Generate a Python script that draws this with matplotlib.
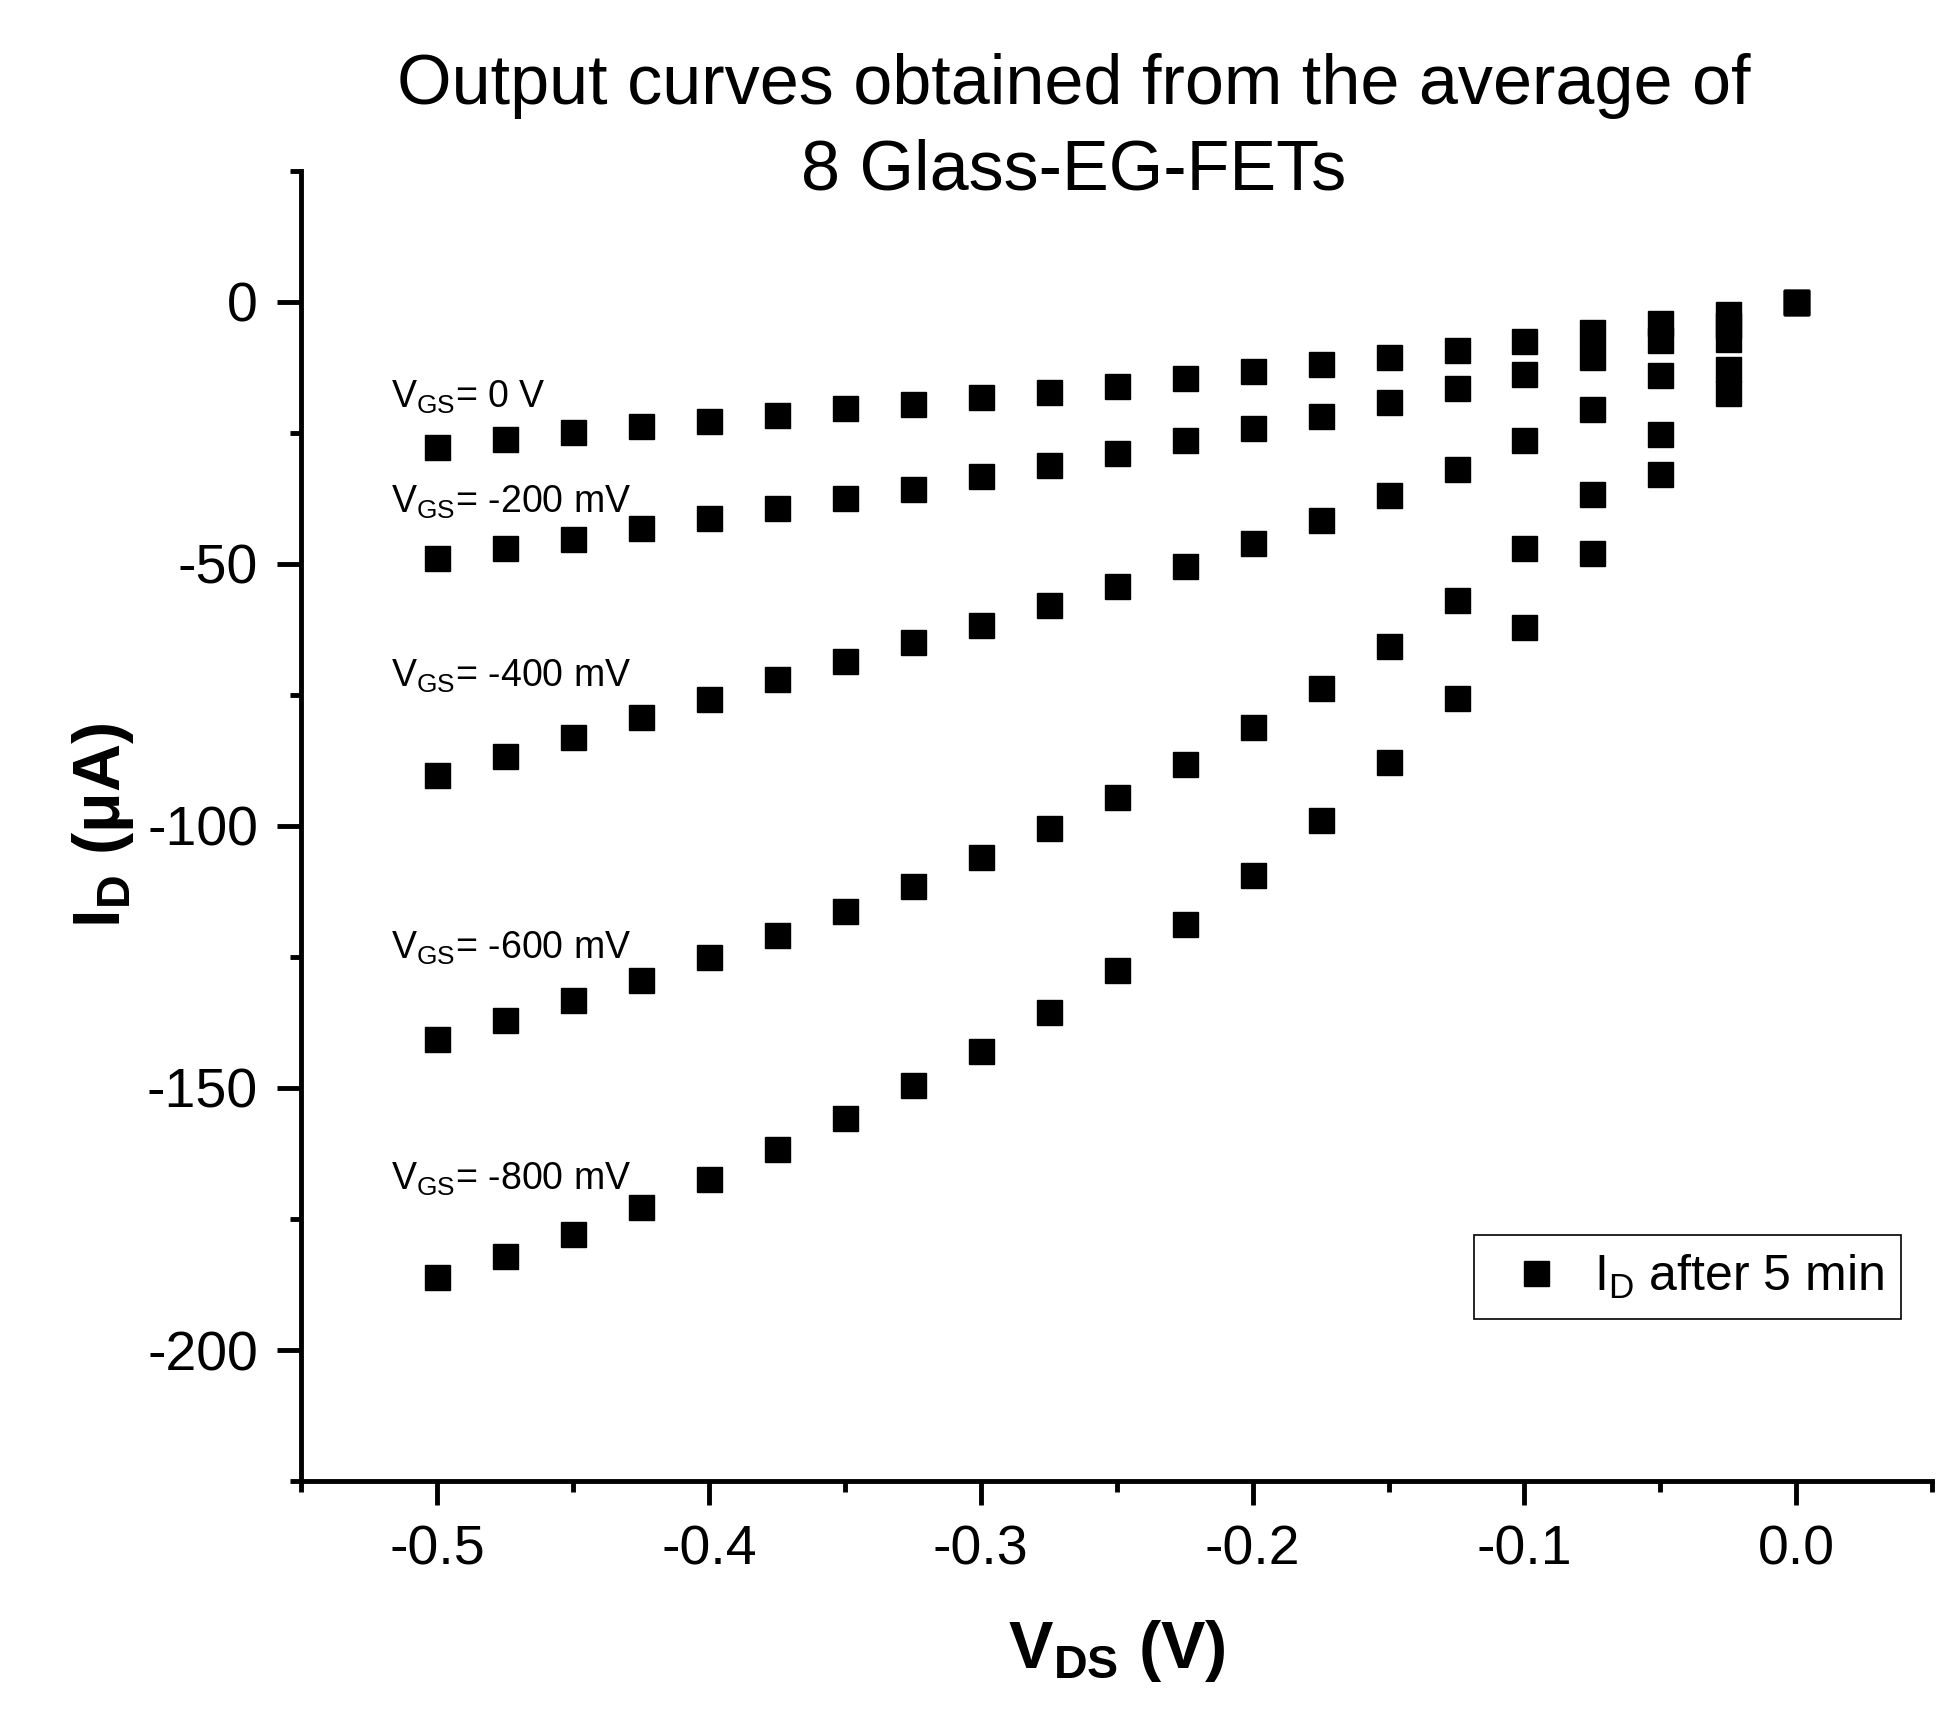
import matplotlib
matplotlib.use('Agg')
import matplotlib.pyplot as plt
from matplotlib.ticker import MultipleLocator
import numpy as np

plt.rcParams['font.family'] = ['Liberation Sans', 'DejaVu Sans']
plt.rcParams['mathtext.fontset'] = 'custom'
plt.rcParams['mathtext.rm'] = 'Liberation Sans'
plt.rcParams['mathtext.it'] = 'Liberation Sans'
plt.rcParams['mathtext.bf'] = 'Liberation Sans:bold'
plt.rcParams['axes.unicode_minus'] = False

# V_DS sweep (V)
vds = [-0.5, -0.475, -0.45, -0.425, -0.4, -0.375, -0.35, -0.325, -0.3, -0.275,
       -0.25, -0.225, -0.2, -0.175, -0.15, -0.125, -0.1, -0.075, -0.05, -0.025, 0.0]

# I_D (uA) for each V_GS
id_0 = [-27.6, -26.2, -24.8, -23.6, -22.7, -21.5, -20.3, -19.4, -18.2, -17.2,
        -16.1, -14.6, -13.2, -11.8, -10.5, -9.1, -7.4, -5.7, -4.0, -2.3, 0.0]
id_200 = [-48.9, -47.0, -45.3, -43.2, -41.3, -39.4, -37.5, -35.7, -33.3, -31.2,
          -28.8, -26.4, -24.1, -21.7, -19.1, -16.5, -13.7, -10.6, -7.3, -4.5, 0.0]
id_400 = [-90.2, -86.7, -83.1, -79.3, -75.8, -72.0, -68.5, -64.9, -61.6, -57.9,
          -54.3, -50.3, -46.0, -41.6, -36.8, -31.8, -26.3, -20.5, -13.9, -7.0, 0.0]
id_600 = [-140.7, -137.0, -133.2, -129.4, -125.1, -120.9, -116.2, -111.5, -106.0, -100.4,
          -94.4, -88.1, -81.2, -73.7, -65.6, -56.8, -47.0, -36.6, -25.3, -12.8, 0.0]
id_800 = [-186.1, -182.1, -177.8, -172.8, -167.4, -161.7, -155.8, -149.5, -142.9, -135.5,
          -127.5, -118.8, -109.3, -98.9, -87.8, -75.6, -62.1, -47.9, -32.8, -17.3, 0.0]

curve_labels = [r'V$_{\rm GS}$= 0 V', r'V$_{\rm GS}$= -200 mV', r'V$_{\rm GS}$= -400 mV',
                r'V$_{\rm GS}$= -600 mV', r'V$_{\rm GS}$= -800 mV']
label_y = [-18.2, -38.3, -71.5, -123.3, -167.4]

fig = plt.figure(figsize=(19.42, 17.09), dpi=100)
ax = fig.add_axes([0.155, 0.1334, 0.84, 0.7666])

for i, ys in enumerate([id_0, id_200, id_400, id_600, id_800]):
    ax.plot(vds, ys, ls='none', marker='s', ms=18, color='black',
            label=r'I$_{\rm D}$ after 5 min' if i == 0 else None)

for txt, y in zip(curve_labels, label_y):
    ax.text(-0.517, y, txt, fontsize=27, va='center', ha='left')

ax.set_xlim(-0.55, 0.05)
ax.set_ylim(-225, 25)
ax.xaxis.set_major_locator(MultipleLocator(0.1))
ax.xaxis.set_minor_locator(MultipleLocator(0.05))
ax.yaxis.set_major_locator(MultipleLocator(50))
ax.yaxis.set_minor_locator(MultipleLocator(25))
ax.xaxis.set_major_formatter(matplotlib.ticker.FormatStrFormatter('%.1f'))

for s in ['top', 'right']:
    ax.spines[s].set_visible(False)
for s in ['left', 'bottom']:
    ax.spines[s].set_linewidth(3.5)

ax.tick_params(which='major', direction='out', length=17, width=3.5, labelsize=40, pad=14)
ax.tick_params(which='minor', direction='out', length=8, width=3.5)

ax.set_xlabel(r'$\mathbf{V_{DS}}$ (V)', fontsize=48, fontweight='bold', labelpad=30)
ax.set_ylabel(r'$\mathbf{I_{D}}$ ($\mathbf{\mu}$A)', fontsize=48, fontweight='bold', labelpad=8)

fig.text(0.553, 0.969, 'Output curves obtained from the average of\n8 Glass-EG-FETs',
         fontsize=50.5, ha='center', va='top', linespacing=1.38)

leg = ax.legend(loc='lower right', bbox_to_anchor=(0.981, 0.124), borderaxespad=0,
                fontsize=36, fancybox=False, edgecolor='black', framealpha=1,
                markerscale=1, handlelength=1.8, handletextpad=0.25, borderpad=0.35)
leg.get_frame().set_linewidth(1.2)

fig.savefig('out.png', dpi=100, facecolor='white')
